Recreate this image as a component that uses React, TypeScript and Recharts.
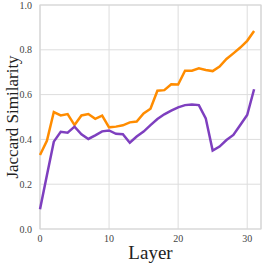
import { LineChart, Line, XAxis, YAxis, CartesianGrid, ReferenceArea } from 'recharts';

const layers = Array.from({ length: 32 }, (_, i) => i);

const orangeValues = [
  0.33, 0.394, 0.522, 0.507, 0.513, 0.464, 0.507, 0.513, 0.492, 0.506,
  0.454, 0.457, 0.463, 0.476, 0.48, 0.516, 0.537, 0.617, 0.62, 0.646,
  0.645, 0.707, 0.707, 0.717, 0.71, 0.705, 0.725, 0.759, 0.784, 0.81,
  0.84, 0.884,
];

const purpleValues = [
  0.088, 0.24, 0.39, 0.434, 0.43, 0.457, 0.423, 0.402, 0.418, 0.436,
  0.44, 0.425, 0.423, 0.385, 0.413, 0.435, 0.464, 0.491, 0.512, 0.528,
  0.543, 0.553, 0.556, 0.553, 0.494, 0.35, 0.368, 0.397, 0.42, 0.464,
  0.509, 0.624,
];

const xTicks = [0, 10, 20, 30];
const yTicks = [0, 0.2, 0.4, 0.6, 0.8, 1.0];

const data = layers.map((layer, i) => ({
  layer,
  orange: orangeValues[i],
  purple: purpleValues[i],
}));

const font = '"Liberation Serif", "DejaVu Serif", serif';

export default function App() {
  return (
    <div style={{ position: 'fixed', left: 0, top: 0, width: 266, height: 266, background: '#fff' }}>
      <LineChart width={266} height={266} data={data} margin={{ top: 5, right: 5, left: 0, bottom: 0 }}>
        <CartesianGrid stroke="#dddddd" strokeWidth={1} />
        <ReferenceArea x1={0} x2={32} y1={0} y2={1} fill="none" stroke="#d6d6d6" strokeWidth={1.2} />
        <XAxis
          dataKey="layer"
          type="number"
          domain={[0, 32]}
          ticks={xTicks}
          tickLine={false}
          axisLine={false}
          height={37}
          tick={{ fontFamily: font, fontSize: 10, fill: '#444' }}
          tickMargin={0}
          label={{ value: 'Layer', position: 'center', dy: 5, style: { fontFamily: font, fontSize: 19, fill: '#222' } }}
        />
        <YAxis
          type="number"
          domain={[0, 1]}
          ticks={yTicks}
          tickFormatter={(v: number) => v.toFixed(1)}
          tickLine={false}
          axisLine={false}
          width={40}
          tickMargin={2}
          tick={{ fontFamily: font, fontSize: 10, fill: '#444' }}
          label={{ value: 'Jaccard Similarity', angle: -90, position: 'center', dx: -8, style: { textAnchor: 'middle', fontFamily: font, fontSize: 17, fill: '#222' } }}
        />
        <Line dataKey="orange" stroke="#FF8C00" strokeWidth={2.5} dot={false} isAnimationActive={false} />
        <Line dataKey="purple" stroke="#7E3FBF" strokeWidth={2.5} dot={false} isAnimationActive={false} />
      </LineChart>
    </div>
  );
}
